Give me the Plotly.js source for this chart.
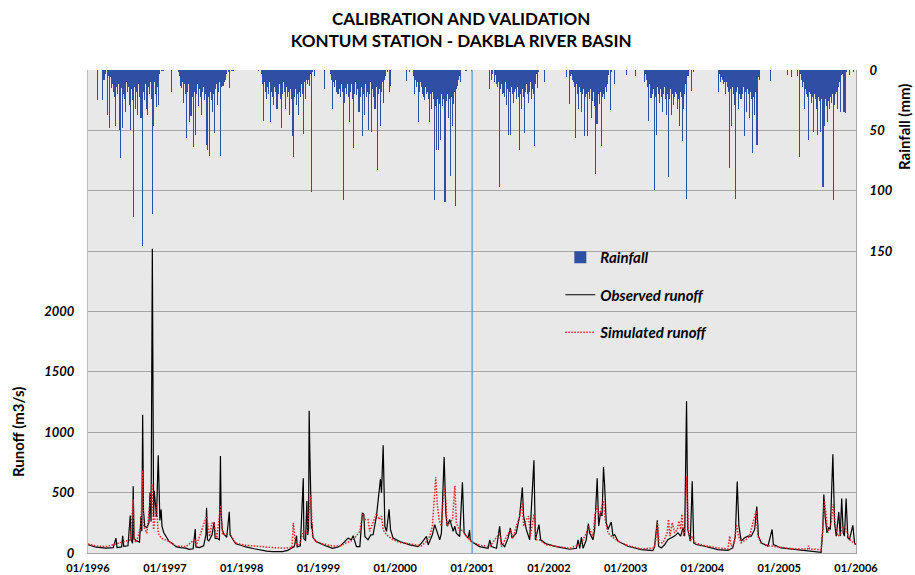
<!DOCTYPE html>
<html><head><meta charset="utf-8">
<script src="https://cdn.plot.ly/plotly-3.0.1.min.js"></script>
<style>html,body{margin:0;padding:0;background:#fff}</style>
</head><body><div id="chart" style="width:915px;height:575px"></div>
<script>
// ---------- axis ticks ----------
const yearTicks = ['1996-01-01','1997-01-01','1998-01-01','1999-01-01','2000-01-01','2001-01-01','2002-01-01','2003-01-01','2004-01-01','2005-01-01','2006-01-01'];
const yearTickText = ['01/1996','01/1997','01/1998','01/1999','01/2000','01/2001','01/2002','01/2003','01/2004','01/2005','01/2006'];
const runoffTicks = [0,500,1000,1500,2000,2500,3000,3500,4000];
const runoffTickText = ['0','500','1000','1500','2000','','','',''];
const rainTicks = [0,50,100,150];
const validationStart = '2001-01-01';

// ---------- daily rainfall (mm), one value every RAIN_STEP days from the first day-of-year ----------
const RAIN_STEP = 4;
const rainYears    = [1996,1997,1998,1999,2000,2001,2002,2003,2004,2005];
const rainFirstDoy = [45,33,81,30,54,84,86,6,77,41];
const rain1996 = [25,0,0,0,0,0,25,0,8,0,3,0,37,5,48,10,6,15,12,18,10,22,46,14,20,12,50,18,73,15,48,20,12,24,35,10,18,14,29,20,50,16,25,122,14,20,32,18,37,12,22,15,40,20,146,18,25,12,32,16,37,14,20,10,24,12,119,46,10,20,31,8,14,29,3,0,1,0,1,1,0];
const rain1997 = [18,0,0,0,0,0,0,0,2,5,13,8,15,10,27,12,20,15,56,18,12,43,20,38,15,22,64,18,54,14,20,12,30,16,22,10,37,18,14,25,20,62,30,66,22,71,18,25,35,14,20,52,16,12,29,14,18,10,71,14,8,13,5,10,8,3,0,0,2,15,0,1,1,1,0];
const rain1998 = [1,0,0,0,3,12,42,10,18,8,24,14,20,10,43,18,12,22,29,14,18,10,32,16,20,12,24,48,15,20,10,18,32,14,22,12,18,37,16,24,20,55,72,22,16,29,20,14,37,18,22,12,20,53,16,10,24,8,12,5,8,13,3,101,2,0,0,5];
const rain1999 = [16,0,0,0,0,0,0,3,8,32,24,10,14,8,18,12,20,10,16,22,12,18,14,108,27,15,20,12,22,16,43,18,12,24,65,14,20,10,21,16,12,35,18,22,14,55,20,16,37,12,22,18,50,14,20,10,51,16,22,12,32,18,14,83,20,16,46,12,18,10,27,8,5,0,0,2,0,18,0,13];
const rain2000 = [9,0,0,0,2,0,0,0,3,5,20,8,14,10,43,12,18,10,14,20,16,22,25,14,20,18,24,16,43,20,32,18,24,20,108,30,66,24,66,22,28,58,20,30,24,36,109,78,26,20,40,24,30,88,22,46,28,18,113,20,16,13,8,5,3,10,0,0,0,0,0,1,0,0,0,0,0,1];
const rain2001 = [16,0,8,0,3,0,10,4,12,8,14,10,97,16,12,20,19,14,22,10,29,16,20,54,18,54,14,20,27,12,18,16,24,14,22,18,66,20,32,16,22,14,52,18,12,20,27,14,18,10,24,16,20,63,8,12,3,15,2,0,0,0,0,0,0,10];
const rain2002 = [6,0,0,28,0,5,3,8,10,14,56,18,12,20,32,14,18,10,35,20,16,55,22,14,20,55,18,24,16,40,20,26,18,30,86,24,45,37,20,28,18,63,22,16,20,24,14,18,10,12,4,0,33,2,0,0,0,12];
const rain2003 = [4,0,0,0,0,0,0,0,0,0,0,5,0,0,0,0,0,0,0,0,0,10,0,3,8,14,42,12,18,23,14,20,16,99,22,54,18,14,20,27,16,22,18,35,20,14,24,37,20,18,89,24,16,37,20,14,29,22,18,20,32,16,24,46,18,22,59,14,32,20,12,107,5,5,0,0,0,17,0,0,2];
const rain2004 = [18,0,3,10,6,8,12,10,16,20,10,14,18,81,16,12,46,14,20,29,16,107,18,14,32,20,12,24,16,20,14,55,18,22,35,16,20,40,18,24,20,69,22,37,18,20,62,10,6,8,0,0,0,0,0,0,0,0,0,0,0,0,9];
const rain2005 = [4,0,0,0,6,0,0,0,0,0,0,0,5,0,72,3,5,8,14,10,32,16,20,14,22,58,18,20,27,16,22,51,20,24,32,18,54,22,26,51,24,30,97,28,46,24,30,43,26,20,32,22,27,20,108,24,29,20,18,32,14,10,6,35,4,3,8,35,3,36,2,0,0,0,4,0,0,0,2];
const rainByYear = [rain1996,rain1997,rain1998,rain1999,rain2000,rain2001,rain2002,rain2003,rain2004,rain2005];

// ---------- observed runoff (m3/s): day index from 1996-01-01 ----------
const obsDay = [0,38,86,120,133,138,160,165,170,190,201,205,212,215,219,230,245,252,256,260,264,270,280,290,295,300,306,309,312,315,320,326,334,338,342,348,352,360,370,386,400,418,440,466,480,500,510,513,530,550,561,564,568,575,590,600,605,615,625,630,633,638,645,660,672,676,690,703,730,751,790,814,850,877,925,950,970,981,992,995,1010,1024,1027,1035,1041,1045,1049,1052,1055,1059,1063,1065,1070,1085,1115,1163,1190,1205,1221,1237,1253,1261,1277,1293,1305,1312,1317,1332,1345,1356,1372,1385,1391,1396,1404,1412,1420,1432,1439,1451,1483,1531,1570,1586,1610,1618,1638,1649,1657,1673,1681,1694,1702,1708,1721,1737,1745,1752,1768,1781,1789,1808,1815,1818,1824,1863,1903,1911,1919,1943,1958,1966,1982,1998,2009,2017,2037,2053,2066,2072,2085,2101,2121,2128,2145,2153,2180,2228,2291,2323,2331,2339,2347,2355,2370,2380,2386,2402,2410,2422,2429,2438,2445,2452,2457,2465,2473,2489,2497,2505,2521,2568,2632,2687,2695,2708,2714,2727,2743,2759,2775,2790,2806,2819,2830,2838,2847,2853,2865,2874,2881,2893,2933,2996,3044,3067,3079,3088,3096,3107,3123,3139,3155,3171,3181,3189,3202,3234,3254,3260,3297,3360,3424,3487,3495,3500,3506,3515,3523,3531,3543,3551,3559,3571,3578,3585,3592,3598,3606,3614,3622,3638,3646,3652];
const obsFlow = [70,48,40,45,123,45,50,143,55,60,311,110,80,552,120,100,90,305,180,1145,350,220,210,250,501,260,2520,450,300,515,390,300,809,350,270,361,220,170,140,95,80,53,45,40,30,35,199,50,45,60,151,375,110,100,150,255,120,120,110,804,347,200,160,130,342,150,110,76,62,50,35,25,15,11,11,22,40,53,143,50,60,619,120,100,431,150,200,1179,851,300,200,244,130,95,70,39,50,67,95,123,110,143,53,53,333,319,137,109,150,151,305,515,613,500,893,221,179,361,193,123,95,67,53,81,137,67,151,235,193,109,165,795,333,221,277,179,221,165,137,585,165,123,190,110,95,53,39,109,53,39,221,81,53,123,207,123,165,305,543,305,193,109,767,109,235,109,75,53,31,39,109,39,132,39,109,244,165,109,195,619,223,335,307,711,572,251,195,257,140,153,98,56,28,20,56,271,56,42,70,112,126,140,167,140,209,140,1256,195,98,594,84,70,56,28,22,42,140,592,223,98,126,140,140,195,385,140,84,56,195,70,42,28,14,6,195,485,307,167,209,195,817,251,140,340,140,452,167,140,452,126,112,229,84,70];

// ---------- simulated runoff (m3/s) ----------
const simDay = [0,38,86,133,165,201,215,219,230,252,260,264,280,295,304,312,326,334,348,386,418,466,510,514,564,578,590,600,613,630,640,672,703,751,814,877,940,970,977,986,1005,1024,1041,1060,1068,1085,1115,1163,1198,1219,1261,1293,1305,1317,1332,1340,1356,1372,1385,1396,1404,1420,1451,1483,1531,1586,1610,1625,1638,1646,1654,1662,1670,1681,1694,1702,1708,1721,1734,1745,1752,1768,1781,1800,1824,1863,1911,1958,1966,2009,2022,2037,2053,2066,2072,2085,2096,2104,2121,2132,2148,2180,2228,2291,2331,2347,2370,2380,2402,2410,2422,2433,2441,2452,2460,2473,2489,2521,2568,2632,2693,2700,2708,2716,2735,2755,2761,2768,2779,2790,2803,2811,2819,2825,2833,2841,2847,2855,2866,2874,2885,2933,2996,3044,3052,3060,3075,3084,3094,3107,3131,3147,3163,3171,3178,3186,3202,3234,3297,3360,3422,3427,3432,3487,3495,3503,3511,3519,3535,3545,3555,3567,3583,3590,3606,3622,3652];
const simFlow = [75,59,53,75,87,109,445,109,87,221,683,221,165,445,571,193,403,165,123,95,59,53,115,55,305,137,250,235,123,395,151,165,81,64,53,45,40,45,250,81,67,179,165,480,137,95,76,59,59,76,109,179,319,277,277,179,263,328,277,305,193,151,109,87,76,59,95,137,221,445,627,389,277,221,543,445,221,249,277,557,249,179,193,137,95,64,53,165,53,193,123,221,300,417,221,277,305,137,319,109,109,67,53,39,67,81,165,221,137,307,390,307,363,432,279,167,140,98,61,33,42,98,257,84,84,167,279,140,251,167,195,265,195,321,140,223,636,195,98,140,84,61,42,33,140,56,84,237,140,84,112,140,251,307,349,140,84,61,50,33,33,61,33,28,195,432,307,167,251,405,223,140,167,223,195,112,70];

// ---------- build traces ----------
const DAY_MS = 86400000;
const T0 = Date.UTC(1996,0,1);
const iso = ms => new Date(ms).toISOString().slice(0,10);
const rainX = [], rainY = [];
rainYears.forEach((yr,k) => {
  rainByYear[k].forEach((v,i) => {
    rainX.push(iso(Date.UTC(yr,0,rainFirstDoy[k] + RAIN_STEP*i)));
    rainY.push(v);
  });
});
const obsX = obsDay.map(d => iso(T0 + d*DAY_MS));
const simX = simDay.map(d => iso(T0 + d*DAY_MS));

const FONT = 'Lato, "Open Sans", sans-serif';
const boldItalic = {family:FONT, color:'#000', weight:'bold', style:'italic'};

const traces = [
  {type:'bar', name:'Rainfall', x:rainX, y:rainY, yaxis:'y2', width:5*DAY_MS,
   marker:{color:'#2f4fa5', line:{width:0}}, legendgroup:'a', hoverinfo:'x+y'},
  {type:'scatter', mode:'lines', name:'Observed runoff', x:obsX, y:obsFlow,
   line:{color:'#000000', width:1.2}, legendgroup:'b'},
  {type:'scatter', mode:'lines', name:'Simulated runoff', x:simX, y:simFlow,
   line:{color:'#e5202a', width:1.5, dash:'1.5px,1.5px'}, legendgroup:'c'}
];

const layout = {
  width:915, height:575,
  margin:{l:88, r:59, t:70, b:22},
  paper_bgcolor:'#ffffff', plot_bgcolor:'#e8e8e8',
  showlegend:true, bargap:0,
  title:{text:'CALIBRATION AND VALIDATION<br>KONTUM STATION - DAKBLA RIVER BASIN',
         font:{family:FONT, size:17, color:'#000', weight:'bold'},
         xref:'container', x:0.504, yref:'container', y:0.957, yanchor:'middle'},
  xaxis:{type:'date', range:['1996-01-01','2006-01-01'], tickvals:yearTicks, ticktext:yearTickText,
         tickfont:{family:FONT, size:11, color:'#000', weight:'bold'},
         showgrid:false, zeroline:false, showline:true, linecolor:'#a6a6a6', ticks:'',
         ticklabelstandoff:5, fixedrange:true},
  yaxis:{range:[0,4000], tickvals:runoffTicks, ticktext:runoffTickText,
         tickfont:Object.assign({size:13}, boldItalic),
         showgrid:true, gridcolor:'#a6a6a6', gridwidth:1, zeroline:false,
         showline:true, linecolor:'#bdbdbd', ticks:'', ticklabelstandoff:10, fixedrange:true},
  yaxis2:{overlaying:'y', side:'right', range:[400,0], tickvals:rainTicks,
          tickfont:Object.assign({size:13}, boldItalic),
          showgrid:false, zeroline:false, showline:true, linecolor:'#a6a6a6', ticks:'',
          ticklabelstandoff:10, fixedrange:true},
  legend:{x:0.615, y:0.646, xanchor:'left', yanchor:'top', bgcolor:'rgba(0,0,0,0)',
          traceorder:'grouped', tracegroupgap:15,
          font:Object.assign({size:15}, boldItalic)},
  shapes:[{type:'line', xref:'x', x0:validationStart, x1:validationStart, yref:'paper', y0:0, y1:1,
           line:{color:'#5b8ed4', width:1.2}}],
  annotations:[
    {text:'Runoff (m3/s)', xref:'paper', yref:'paper', x:-0.091, y:0.2505, xanchor:'center', yanchor:'middle',
     textangle:-90, showarrow:false, font:{family:FONT, size:15, color:'#000', weight:'bold'}},
    {text:'Rainfall (mm)', xref:'paper', yref:'paper', x:1.0625, y:0.882, xanchor:'center', yanchor:'middle',
     textangle:-90, showarrow:false, font:{family:FONT, size:15, color:'#000', weight:'bold'}}
  ]
};

Plotly.newPlot('chart', traces, layout, {displayModeBar:false, staticPlot:true});
</script>
</body></html>
